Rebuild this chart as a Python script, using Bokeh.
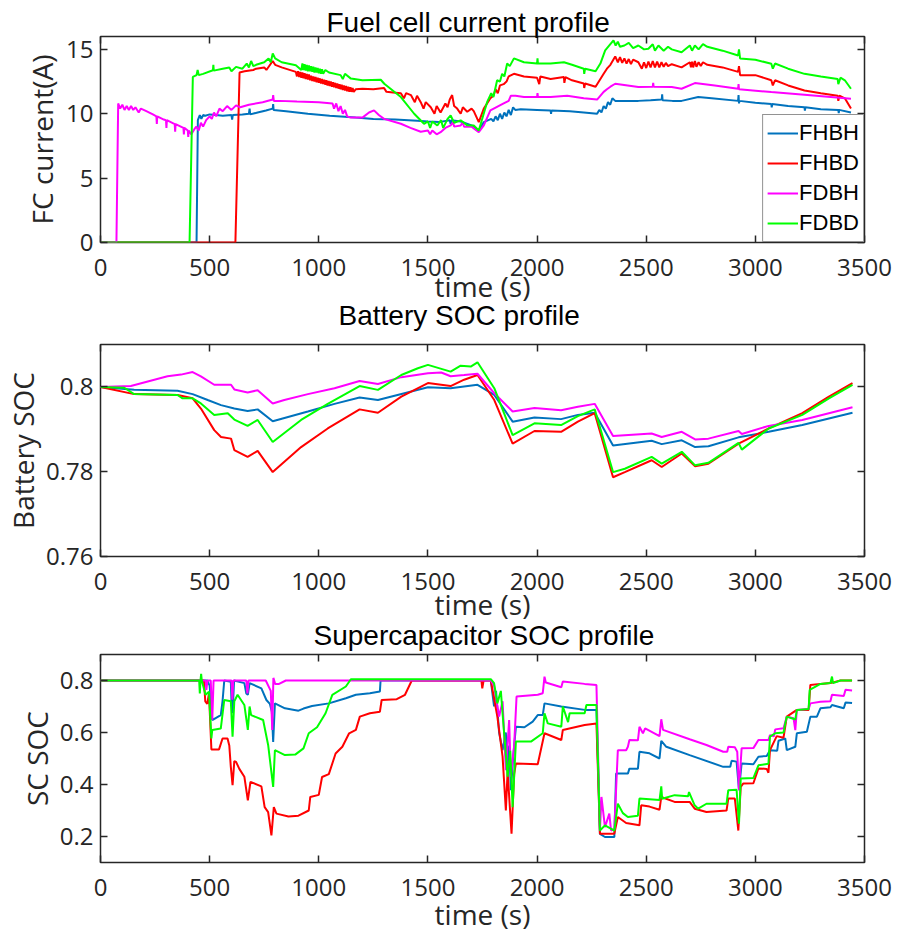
from bokeh.plotting import figure
from bokeh.models import (LinearAxis, FixedTicker, CustomJSTickFormatter, Legend,
                          LegendItem, Range1d, Title)
from bokeh.layouts import column
from bokeh.embed import file_html
from bokeh.resources import INLINE

# ---------------- data (time s, value) ----------------
SERIES = ["FHBH", "FHBD", "FDBH", "FDBD"]
COLORS = ["#0072BD", "#FF0000", "#FF00FF", "#00FF00"]
X_TICKS = [0, 500, 1000, 1500, 2000, 2500, 3000, 3500]
FC_TICKS = [0, 5, 10, 15]
BAT_TICKS = [0.76, 0.78, 0.8]
SC_TICKS = [0.2, 0.4, 0.6, 0.8]

fc_FHBH = [[0,0],[440,0],[446,9.5],[455,9.9],[462,9.6],[470,9.9],[480,9.85],[500,9.95],[530,9.9],[560,9.85],[600,9.9],[603,9.55],[606,9.9],[650,9.95],[680,10.0],[683,10.4],[686,9.95],[720,10.1],[758,10.25],[789,10.4],[791,10.75],[793,10.3],[850,10.2],[950,10.0],[1050,9.85],[1169,9.7],[1250,9.6],[1350,9.55],[1452,9.45],[1500,9.4],[1550,9.35],[1600,9.5],[1604,9.2],[1608,9.5],[1650,9.4],[1700,9.1],[1733,8.7],[1756,9.35],[1790,9.6],[1800,9.4],[1810,9.8],[1820,9.5],[1830,10.0],[1840,9.6],[1850,10.1],[1860,9.8],[1870,10.3],[1880,9.9],[1890,10.5],[1900,10.3],[1925,10.35],[2000,10.3],[2062,10.25],[2064,10.0],[2066,10.25],[2150,10.2],[2214,10.1],[2275,10.0],[2285,10.3],[2295,10.1],[2305,10.6],[2315,10.4],[2325,10.9],[2335,10.7],[2345,11.2],[2358,11.0],[2400,11.0],[2464,11.0],[2520,11.05],[2571,11.1],[2573,11.5],[2575,11.05],[2620,11.0],[2662,11.0],[2738,11.3],[2800,11.2],[2921,11.0],[2923,11.45],[2925,10.8],[2927,11.0],[3000,10.85],[3073,10.75],[3075,10.5],[3077,10.75],[3150,10.6],[3225,10.5],[3227,10.25],[3229,10.5],[3300,10.35],[3380,10.3],[3382,10.05],[3384,10.3],[3438,10.1]]

fc_FHBD = [[0,0],[618,0],[637,13.2],[660,13.3],[700,13.4],[713,13.5],[750,13.6],[760,13.4],[789,14.1],[800,13.8],[830,13.6],[895,13.25],[900,12.9],[905,13.3],[910,12.85],[915,13.25],[920,12.8],[925,13.2],[930,12.75],[935,13.15],[940,12.7],[945,13.1],[950,12.65],[955,13.05],[960,12.6],[965,12.95],[970,12.55],[975,12.9],[980,12.5],[985,12.85],[990,12.45],[995,12.8],[1000,12.4],[1005,12.75],[1010,12.35],[1015,12.7],[1020,12.3],[1025,12.65],[1030,12.25],[1035,12.6],[1040,12.2],[1045,12.55],[1050,12.15],[1055,12.5],[1060,12.1],[1065,12.45],[1070,12.05],[1075,12.4],[1080,12.0],[1085,12.35],[1090,11.95],[1095,12.3],[1100,11.9],[1105,12.25],[1110,11.85],[1115,12.2],[1120,11.8],[1125,12.15],[1130,11.75],[1135,12.1],[1140,11.7],[1145,12.05],[1150,11.7],[1155,12.0],[1160,11.7],[1169,11.9],[1200,11.95],[1250,11.9],[1299,12.0],[1310,11.7],[1340,11.65],[1376,11.6],[1390,11.2],[1400,11.6],[1422,11.45],[1440,10.9],[1450,11.4],[1467,10.9],[1480,10.4],[1490,10.9],[1513,10.5],[1530,10.0],[1540,10.6],[1558,10.1],[1580,10.8],[1590,10.5],[1600,11.1],[1611,11.45],[1620,10.6],[1634,10.4],[1650,10.0],[1660,10.5],[1680,10.15],[1700,10.4],[1710,10.2],[1733,9.35],[1756,10.4],[1786,11.2],[1800,11.4],[1810,11.9],[1820,11.6],[1830,12.2],[1847,12.3],[1860,12.5],[1870,12.9],[1894,13.1],[1940,12.9],[2000,12.8],[2010,12.3],[2015,12.9],[2062,12.7],[2123,12.85],[2125,12.4],[2130,12.85],[2160,12.6],[2214,12.35],[2216,12.0],[2220,12.35],[2268,12.1],[2305,13.1],[2320,13.5],[2336,13.8],[2358,14.45],[2370,14.0],[2380,14.4],[2390,13.95],[2400,14.3],[2410,13.9],[2420,14.25],[2430,13.85],[2440,14.2],[2464,14.0],[2480,13.5],[2490,14.0],[2500,13.55],[2510,14.05],[2520,13.6],[2530,14.1],[2540,13.6],[2550,14.05],[2560,13.6],[2570,14.0],[2580,13.65],[2590,13.95],[2600,13.7],[2617,13.85],[2662,13.6],[2700,14.0],[2705,13.6],[2710,14.05],[2715,13.6],[2723,14.1],[2730,13.65],[2740,14.0],[2750,13.7],[2760,14.0],[2780,13.8],[2850,13.6],[2921,13.25],[2925,13.7],[2930,13.0],[3000,13.0],[3073,12.6],[3080,12.2],[3090,12.6],[3150,12.2],[3225,11.8],[3300,11.6],[3377,11.4],[3380,11.0],[3385,11.4],[3410,11.2],[3438,10.4]]

fc_FDBH = [[0,0],[73,0],[81,10.8],[90,10.4],[100,10.7],[110,10.3],[120,10.6],[130,10.3],[140,10.6],[150,10.3],[160,10.5],[175,10.1],[185,10.4],[210,10.2],[240,9.95],[256,9.8],[258,9.2],[260,9.8],[290,9.55],[300,9.5],[302,8.9],[304,9.5],[340,9.2],[342,8.6],[344,9.2],[380,8.9],[382,8.4],[384,8.9],[400,8.7],[402,8.2],[404,8.7],[416,8.4],[430,8.8],[439,9.0],[450,8.7],[460,9.3],[470,9.0],[484,9.5],[500,9.8],[510,9.6],[520,10.1],[530,9.8],[545,10.4],[560,10.2],[580,10.6],[600,10.3],[621,10.65],[640,10.5],[680,10.7],[743,10.9],[789,11.1],[791,11.45],[794,11.0],[820,11.0],[900,10.95],[1000,10.9],[1063,10.8],[1070,10.4],[1080,10.8],[1090,10.2],[1100,10.6],[1110,10.0],[1120,10.3],[1130,9.8],[1147,9.7],[1200,9.7],[1230,10.1],[1253,10.26],[1275,9.9],[1299,9.6],[1376,9.22],[1420,8.9],[1467,8.6],[1500,8.7],[1510,8.4],[1520,8.7],[1540,8.4],[1558,8.57],[1580,8.9],[1604,9.09],[1615,9.35],[1620,9.0],[1650,9.09],[1660,9.35],[1665,9.0],[1700,9.0],[1733,8.57],[1756,9.1],[1786,10.26],[1847,10.8],[1870,11.0],[1880,11.4],[1901,11.4],[1940,11.3],[2000,11.3],[2002,11.6],[2004,11.3],[2062,11.3],[2138,11.4],[2214,11.2],[2275,11.1],[2305,11.7],[2320,11.9],[2336,12.1],[2358,12.33],[2464,12.07],[2530,12.1],[2532,12.4],[2534,12.1],[2617,12.07],[2662,11.94],[2723,12.38],[2814,12.2],[2921,11.94],[2923,12.3],[2925,11.9],[3073,11.68],[3225,11.47],[3438,11.16]]

fc_FDBD = [[0,0],[408,0],[423,12.86],[440,13.0],[445,13.4],[450,13.0],[470,13.1],[515,13.38],[517,13.8],[519,13.35],[560,13.5],[590,13.6],[600,13.3],[621,13.64],[650,13.5],[670,13.9],[680,13.6],[690,14.1],[700,13.7],[713,13.8],[750,14.0],[770,14.3],[780,14.0],[789,14.68],[800,14.3],[830,14.0],[895,13.77],[920,13.4],[925,13.9],[930,13.4],[935,13.85],[940,13.35],[945,13.8],[950,13.3],[955,13.75],[960,13.3],[965,13.7],[970,13.25],[975,13.65],[980,13.2],[985,13.6],[990,13.2],[995,13.55],[1000,13.15],[1005,13.5],[1010,13.1],[1015,13.45],[1020,13.1],[1030,13.4],[1047,13.2],[1100,13.0],[1110,12.7],[1120,13.1],[1147,12.73],[1200,12.6],[1284,12.64],[1300,12.33],[1376,11.3],[1437,10.0],[1482,9.22],[1500,9.4],[1510,8.9],[1520,9.4],[1543,9.09],[1560,9.5],[1570,8.9],[1590,9.6],[1604,9.87],[1620,9.3],[1650,9.49],[1680,9.1],[1710,9.09],[1733,8.7],[1771,10.9],[1790,11.6],[1800,11.3],[1817,12.6],[1830,12.5],[1840,13.1],[1850,12.9],[1863,13.9],[1875,13.7],[1894,14.3],[1940,14.0],[2000,13.9],[2002,14.3],[2004,13.9],[2062,13.9],[2123,14.0],[2160,13.8],[2214,13.5],[2216,13.1],[2220,13.5],[2268,13.3],[2290,13.9],[2312,14.92],[2350,15.7],[2360,15.3],[2370,15.6],[2380,15.2],[2400,15.3],[2420,15.5],[2440,15.1],[2464,15.3],[2490,15.0],[2510,15.05],[2530,15.4],[2540,14.9],[2556,15.3],[2580,14.9],[2600,15.2],[2617,15.0],[2662,14.78],[2700,15.3],[2710,14.9],[2723,15.3],[2740,15.0],[2760,15.4],[2780,15.2],[2850,14.9],[2921,14.53],[2925,15.0],[2930,14.3],[3000,14.2],[3073,13.88],[3080,13.5],[3090,13.9],[3150,13.5],[3225,13.1],[3300,12.9],[3377,12.7],[3380,12.3],[3390,12.8],[3410,12.6],[3438,11.94]]

bat_FHBH = [[0,0.8],[154,0.7993],[353,0.7991],[422,0.7983],[491,0.7969],[552,0.7957],[613,0.7949],[674,0.7943],[720,0.7947],[789,0.7919],[950,0.7942],[1072,0.796],[1187,0.7975],[1271,0.7969],[1500,0.7999],[1604,0.7997],[1727,0.8005],[1804,0.7981],[1888,0.7918],[1988,0.7928],[2110,0.7924],[2187,0.7934],[2264,0.7939],[2348,0.7862],[2525,0.7873],[2571,0.7865],[2663,0.7874],[2724,0.7858],[2785,0.786],[2923,0.7881],[3061,0.7894],[3215,0.791],[3445,0.7939]]

bat_FHBD = [[0,0.8],[154,0.7983],[353,0.7981],[422,0.7973],[460,0.7949],[521,0.7898],[552,0.7882],[598,0.7878],[613,0.7851],[674,0.7835],[720,0.7849],[789,0.7799],[919,0.7858],[1041,0.7902],[1187,0.7947],[1271,0.7939],[1378,0.7977],[1500,0.8009],[1604,0.8002],[1666,0.8017],[1727,0.8028],[1804,0.7969],[1888,0.7866],[1988,0.7896],[2110,0.7894],[2187,0.7918],[2264,0.7938],[2348,0.7787],[2402,0.7799],[2525,0.7827],[2571,0.7811],[2663,0.7843],[2724,0.7813],[2785,0.7819],[2923,0.7866],[3061,0.7902],[3215,0.7938],[3337,0.7977],[3445,0.8009]]

bat_FDBH = [[0,0.8],[139,0.8002],[307,0.8025],[369,0.8029],[422,0.8035],[460,0.8025],[521,0.8005],[598,0.8005],[613,0.7994],[674,0.7987],[720,0.7992],[789,0.7961],[842,0.7969],[950,0.7983],[1072,0.7997],[1187,0.8014],[1271,0.8007],[1378,0.8023],[1500,0.8032],[1561,0.8034],[1604,0.8025],[1666,0.8028],[1727,0.8031],[1804,0.7985],[1888,0.7942],[1988,0.795],[2110,0.7945],[2187,0.7953],[2264,0.796],[2348,0.7884],[2525,0.789],[2571,0.7882],[2663,0.7894],[2724,0.7876],[2785,0.7878],[2923,0.7896],[2938,0.7889],[3061,0.7908],[3215,0.7922],[3445,0.7952]]

bat_FDBD = [[0,0.8],[109,0.7998],[154,0.7983],[353,0.7981],[376,0.7973],[422,0.7973],[460,0.7961],[521,0.7934],[583,0.7938],[613,0.7923],[674,0.7908],[720,0.7922],[789,0.787],[919,0.7922],[1041,0.796],[1187,0.8002],[1271,0.7993],[1378,0.8028],[1454,0.8044],[1500,0.8052],[1604,0.8036],[1650,0.805],[1696,0.8048],[1727,0.8058],[1804,0.7997],[1888,0.7886],[1988,0.7914],[2110,0.791],[2187,0.7931],[2264,0.7947],[2348,0.7799],[2402,0.7807],[2525,0.7835],[2571,0.7819],[2663,0.7847],[2724,0.7815],[2785,0.7821],[2923,0.7868],[2938,0.7852],[3061,0.7902],[3215,0.7934],[3337,0.7973],[3445,0.8005]]

sc_FHBH = [[0,0.8],[489,0.8],[500,0.78],[512,0.648],[551,0.667],[559,0.72],[567,0.8],[597,0.795],[600,0.72],[605,0.674],[612,0.8],[659,0.79],[668,0.75],[675,0.745],[683,0.79],[737,0.77],[760,0.725],[776,0.71],[785,0.68],[791,0.564],[799,0.712],[845,0.693],[907,0.684],[930,0.692],[969,0.702],[1046,0.712],[1124,0.732],[1170,0.745],[1234,0.751],[1280,0.758],[1283,0.8],[1788,0.8],[1803,0.7],[1812,0.76],[1826,0.6],[1842,0.532],[1857,0.6],[1865,0.45],[1872,0.55],[1880,0.378],[1890,0.5],[1903,0.622],[1942,0.62],[1980,0.642],[2003,0.667],[2026,0.667],[2034,0.712],[2111,0.7],[2218,0.687],[2272,0.687],[2288,0.21],[2311,0.198],[2354,0.198],[2362,0.442],[2416,0.442],[2423,0.461],[2462,0.461],[2469,0.526],[2515,0.52],[2561,0.5],[2569,0.568],[2592,0.545],[2699,0.513],[2853,0.468],[2885,0.468],[2891,0.491],[2914,0.488],[2925,0.378],[2937,0.481],[2991,0.478],[3014,0.507],[3052,0.51],[3067,0.532],[3100,0.53],[3106,0.568],[3137,0.577],[3144,0.532],[3183,0.545],[3190,0.597],[3236,0.603],[3252,0.661],[3282,0.661],[3298,0.693],[3344,0.697],[3351,0.706],[3405,0.693],[3413,0.715],[3443,0.713]]

sc_FHBD = [[0,0.8],[474,0.8],[480,0.72],[489,0.71],[497,0.75],[508,0.535],[543,0.535],[559,0.577],[582,0.577],[590,0.55],[597,0.468],[605,0.397],[613,0.49],[621,0.487],[636,0.46],[659,0.43],[675,0.339],[687,0.41],[737,0.393],[752,0.313],[768,0.294],[783,0.204],[794,0.313],[806,0.288],[861,0.277],[907,0.28],[954,0.3],[961,0.352],[1000,0.36],[1015,0.429],[1046,0.44],[1077,0.519],[1108,0.545],[1139,0.597],[1170,0.61],[1188,0.661],[1234,0.674],[1280,0.68],[1288,0.725],[1357,0.728],[1395,0.745],[1426,0.8],[1745,0.8],[1749,0.77],[1755,0.8],[1788,0.8],[1818,0.661],[1842,0.507],[1857,0.3],[1865,0.45],[1883,0.211],[1895,0.44],[1903,0.481],[2003,0.478],[2034,0.597],[2111,0.571],[2118,0.61],[2218,0.629],[2272,0.635],[2288,0.211],[2354,0.211],[2370,0.275],[2408,0.252],[2469,0.243],[2477,0.32],[2515,0.315],[2561,0.303],[2569,0.352],[2630,0.333],[2699,0.333],[2722,0.307],[2776,0.294],[2868,0.3],[2876,0.346],[2906,0.346],[2922,0.223],[2933,0.391],[2945,0.404],[2991,0.405],[3014,0.462],[3052,0.46],[3060,0.445],[3067,0.532],[3098,0.586],[3129,0.58],[3144,0.661],[3190,0.687],[3244,0.687],[3252,0.783],[3298,0.787],[3344,0.79],[3390,0.8],[3443,0.8]]

sc_FDBH = [[0,0.8],[482,0.8],[485,0.764],[490,0.8],[505,0.8],[512,0.649],[518,0.8],[600,0.8],[604,0.726],[608,0.8],[668,0.8],[673,0.75],[678,0.8],[757,0.8],[780,0.76],[787,0.61],[792,0.81],[800,0.787],[818,0.787],[849,0.8],[1788,0.8],[1803,0.78],[1826,0.661],[1842,0.72],[1857,0.455],[1872,0.648],[1880,0.43],[1895,0.55],[1906,0.738],[2003,0.745],[2026,0.751],[2034,0.815],[2040,0.792],[2111,0.774],[2118,0.796],[2218,0.787],[2272,0.783],[2288,0.223],[2295,0.352],[2311,0.236],[2331,0.288],[2339,0.223],[2354,0.23],[2370,0.532],[2408,0.532],[2416,0.545],[2423,0.571],[2462,0.57],[2469,0.622],[2485,0.597],[2495,0.616],[2561,0.586],[2569,0.651],[2577,0.61],[2699,0.574],[2776,0.552],[2853,0.526],[2871,0.526],[2876,0.545],[2906,0.543],[2917,0.526],[2925,0.378],[2937,0.539],[2991,0.54],[3014,0.571],[3060,0.571],[3067,0.59],[3085,0.585],[3091,0.612],[3129,0.616],[3144,0.661],[3175,0.655],[3183,0.609],[3190,0.687],[3244,0.69],[3252,0.712],[3298,0.718],[3344,0.72],[3351,0.745],[3405,0.74],[3413,0.764],[3443,0.762]]

sc_FDBD = [[0,0.8],[452,0.8],[455,0.75],[458,0.8],[461,0.826],[464,0.8],[481,0.745],[497,0.757],[508,0.577],[512,0.61],[551,0.615],[567,0.725],[597,0.72],[605,0.584],[613,0.72],[628,0.745],[659,0.706],[675,0.61],[683,0.7],[690,0.667],[745,0.648],[768,0.552],[791,0.391],[799,0.532],[845,0.513],[892,0.515],[930,0.539],[954,0.597],[992,0.62],[1031,0.674],[1062,0.745],[1124,0.777],[1147,0.805],[1788,0.805],[1803,0.79],[1818,0.712],[1834,0.76],[1849,0.597],[1865,0.43],[1877,0.53],[1888,0.313],[1903,0.565],[1972,0.565],[2026,0.597],[2034,0.674],[2049,0.635],[2111,0.622],[2118,0.7],[2142,0.64],[2149,0.674],[2218,0.674],[2226,0.706],[2272,0.706],[2288,0.223],[2311,0.243],[2354,0.223],[2370,0.326],[2393,0.29],[2416,0.275],[2462,0.28],[2469,0.346],[2561,0.34],[2569,0.393],[2573,0.345],[2630,0.359],[2692,0.355],[2696,0.371],[2722,0.32],[2738,0.307],[2776,0.326],[2868,0.326],[2876,0.378],[2914,0.38],[2925,0.249],[2933,0.423],[2991,0.425],[3014,0.474],[3060,0.48],[3067,0.584],[3091,0.597],[3129,0.6],[3137,0.635],[3144,0.661],[3183,0.65],[3190,0.687],[3244,0.69],[3249,0.764],[3298,0.787],[3344,0.79],[3351,0.815],[3356,0.79],[3390,0.8],[3443,0.8]]

FC_DATA = [fc_FHBH, fc_FHBD, fc_FDBH, fc_FDBD]
BAT_DATA = [bat_FHBH, bat_FHBD, bat_FDBH, bat_FDBD]
SC_DATA = [sc_FHBH, sc_FHBD, sc_FDBH, sc_FDBD]

# ---------------- styling ----------------
AX = "#262626"
TICK_FONT = "Open Sans"
TITLE_FONT = "Liberation Sans"
Y_FMT = CustomJSTickFormatter(code="return String(Math.round(tick*1000)/1000);")


def style_axis(ax, ticks, show_labels=True):
    ax.ticker = FixedTicker(ticks=ticks)
    ax.major_tick_in = 7
    ax.major_tick_out = 0
    ax.minor_tick_line_color = None
    ax.major_tick_line_color = AX
    ax.major_tick_line_width = 1.5
    ax.axis_line_color = None
    if show_labels:
        ax.major_label_text_font = TICK_FONT
        ax.major_label_text_font_size = "24px"
        ax.major_label_text_color = AX
        ax.axis_label_text_font = TICK_FONT
        ax.axis_label_text_font_size = "28px"
        ax.axis_label_text_font_style = "normal"
        ax.axis_label_text_color = AX
    else:
        ax.major_label_text_font_size = "0px"
        ax.major_label_standoff = 0
        ax.formatter = CustomJSTickFormatter(code="return '';")


def make_title(text, offset, standoff):
    return Title(text=text, align="left", offset=offset, standoff=standoff,
                 text_font=TITLE_FONT, text_font_size="28px",
                 text_font_style="normal", text_color="black")


def make_panel(height, borders, yr, yticks, ylabel, xl_standoff, yl_standoff):
    left, right, top, bottom = borders
    p = figure(width=899, height=height, x_range=Range1d(0, 3500),
               y_range=Range1d(*yr), x_axis_type=None, y_axis_type=None,
               output_backend="svg", toolbar_location=None,
               min_border_left=left, min_border_right=right,
               min_border_top=top, min_border_bottom=bottom)
    p.outline_line_color = AX
    p.outline_line_width = 1.5
    p.outline_line_alpha = 1.0
    p.background_fill_color = "white"
    p.border_fill_color = "white"

    xa = LinearAxis(axis_label="time (s)")
    style_axis(xa, X_TICKS)
    xa.major_label_standoff = 16
    xa.axis_label_standoff = xl_standoff
    p.add_layout(xa, "below")

    ya = LinearAxis(axis_label=ylabel, formatter=Y_FMT)
    style_axis(ya, yticks)
    ya.major_label_standoff = 7
    ya.axis_label_standoff = yl_standoff
    p.add_layout(ya, "left")

    # mirrored inward ticks on the top and right edges (box on)
    ta = LinearAxis()
    style_axis(ta, X_TICKS, show_labels=False)
    p.add_layout(ta, "above")
    ra = LinearAxis()
    style_axis(ra, yticks, show_labels=False)
    p.add_layout(ra, "right")
    return p


def draw(p, datasets):
    rs = []
    for data, color in zip(datasets, COLORS):
        t = [d[0] for d in data]
        v = [d[1] for d in data]
        rs.append(p.line(t, v, line_color=color, line_width=2))
    return rs


# panel 1: canvas 0..338, frame 36..242
p1 = make_panel(338, (100, 35, 36, 96), (0, 16), FC_TICKS, "FC current(A)", -12, 2)
p1.add_layout(make_title("Fuel cell current profile", 226, -2), "above")
p1.add_layout(make_title("Battery SOC profile", 238, -19), "below")
r1 = draw(p1, FC_DATA)
legend = Legend(items=[LegendItem(label=s, renderers=[r]) for s, r in zip(SERIES, r1)],
                location="bottom_right")
legend.margin = 0
legend.padding = 4
legend.spacing = 2
legend.glyph_width = 31
legend.glyph_height = 28
legend.label_height = 28
legend.label_standoff = 1
legend.label_text_font = TITLE_FONT
legend.label_text_font_size = "22px"
legend.label_text_color = "black"
legend.border_line_color = AX
legend.border_line_width = 1.5
legend.background_fill_color = "white"
legend.background_fill_alpha = 1.0
p1.add_layout(legend)

# panel 2: canvas 338..651, frame 344..556
p2 = make_panel(313, (100, 35, 6, 95), (0.76, 0.81), BAT_TICKS, "Battery SOC", -8, 1)
p2.add_layout(make_title("Supercapacitor SOC profile", 213, -15), "below")
draw(p2, BAT_DATA)

# panel 3: canvas 651..935, frame 654..862
p3 = make_panel(284, (100, 35, 3, 73), (0.1, 0.9), SC_TICKS, "SC SOC", -4, 1)
draw(p3, SC_DATA)

layout = column(p1, p2, p3, spacing=0)
open("out.html", "w").write(file_html(layout, INLINE))
